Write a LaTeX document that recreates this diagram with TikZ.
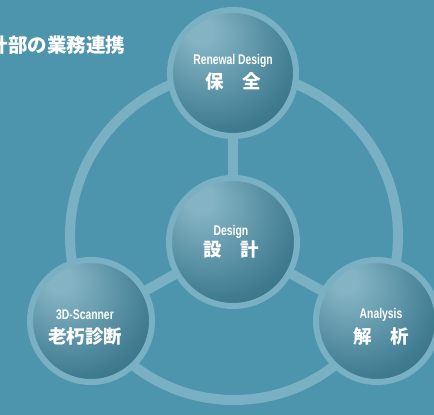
\documentclass[tikz,border=0pt]{standalone}
\usepackage{fontspec}
\usetikzlibrary{backgrounds}
\newfontfamily\cjk{Noto Sans CJK JP}
\newfontfamily\cond[FakeStretch=0.74]{Liberation Sans}
\definecolor{bgc}{RGB}{76,149,173}
\definecolor{ringc}{RGB}{122,176,195}
\definecolor{hlc}{RGB}{132,180,196}
\definecolor{midc}{RGB}{64,124,145}
\definecolor{dkc}{RGB}{28,74,93}
\pgfdeclareradialshading{sph}{\pgfpoint{-14bp}{18bp}}{color(0bp)=(hlc); color(5bp)=(hlc); color(32bp)=(midc); color(60bp)=(dkc); color(72bp)=(dkc)}
\tikzset{
  sphere/.style={circle, minimum size=#1, inner sep=0pt, draw=ringc, line width=6pt, shading=sph},
  band/.style={draw=ringc, line width=10pt},
  en/.style={font=\cond\bfseries\fontsize{14}{14}\selectfont, text=white, inner sep=0pt},
  jp/.style={font=\cjk\bfseries\fontsize{18.5}{18.5}\selectfont, text=white, inner sep=0pt}
}
\begin{document}
\begin{tikzpicture}[x=1pt,y=-1pt]
\useasboundingbox (0,0) rectangle (434,415);
\clip (0,0) rectangle (434,415);
\coordinate (rc) at (234,236);
\draw[band] (rc) circle[radius=164];
\node[sphere=126pt] (top) at (233,73) {};
\node[sphere=128pt] (mid) at (233,242) {};
\node[sphere=122pt] (lft) at (91,321) {};
\node[sphere=122pt] (rgt) at (377,321) {};
\begin{scope}[on background layer]
\fill[bgc] (0,0) rectangle (434,415);
\draw[band] (mid.center) -- (top.center);
\draw[band] (mid.center) -- (lft.center);
\draw[band] (mid.center) -- (rgt.center);
\end{scope}
\node[anchor=west, inner sep=0pt, text=white, font=\cjk\bfseries\fontsize{19.5}{19.5}\selectfont] (title) at (-11.5,45) {計部の業務連携};
\node[en] (topen) at (233,61) {Renewal Design};
\node[jp] (topjp) at (233,81) {保　全};
\node[en] (miden) at (231,232) {Design};
\node[jp] (midjp) at (231,250) {設　計};
\node[en] (lften) at (85,315) {3D-Scanner};
\node[jp] (lftjp) at (85,336) {老朽診断};
\node[en] (rgten) at (381,315) {Analysis};
\node[jp] (rgtjp) at (381,336) {解　析};
\end{tikzpicture}
\end{document}
